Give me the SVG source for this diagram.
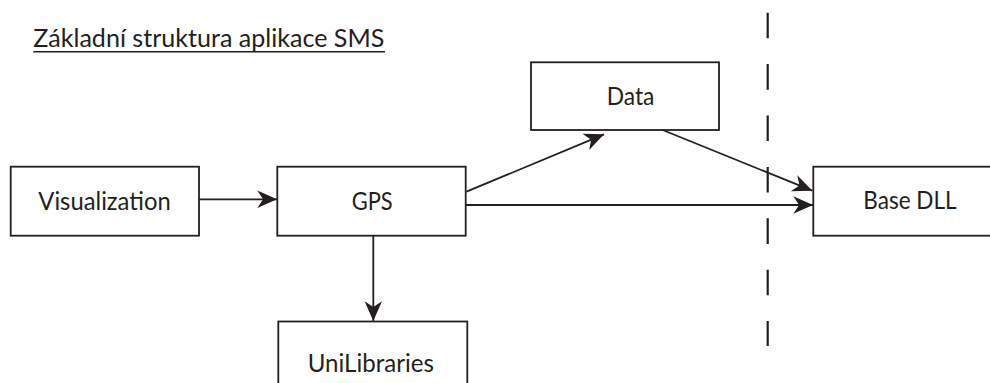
<svg xmlns="http://www.w3.org/2000/svg" width="990" height="383" viewBox="0 0 990 383">
  <style>
    .box { fill: #ffffff; stroke: #231f20; stroke-width: 1.8; }
    .lbl { font-family: Lato, "Open Sans", "Liberation Sans", sans-serif; font-size: 25.5px; fill: #231f20; }
    .edge { fill: none; stroke: #231f20; stroke-width: 1.8; marker-end: url(#head); }
  </style>
  <defs>
    <marker id="head" markerUnits="userSpaceOnUse" markerWidth="22" markerHeight="22" viewBox="-18 -9 19 18" refX="0" refY="0" orient="auto">
      <path d="M0,0 L-17,-7.5 L-12,0 L-17,7.5 Z" fill="#231f20"/>
    </marker>
  </defs>
  <rect width="990" height="383" fill="#ffffff"/>

  <!-- title -->
  <g id="title">
    <text class="lbl" x="33.3" y="46.7" font-size="27" textLength="351" lengthAdjust="spacingAndGlyphs">Základní struktura aplikace SMS</text>
    <line x1="33.3" y1="51.8" x2="385" y2="51.8" stroke="#231f20" stroke-width="1.4"/>
  </g>

  <!-- boundary -->
  <line id="boundary" x1="767.7" y1="12.7" x2="767.7" y2="346" stroke="#231f20" stroke-width="2.2" stroke-dasharray="25.6 25.8"/>

  <!-- connectors -->
  <g id="connectors">
    <line class="edge" x1="199" y1="199.3" x2="277" y2="199.3"/>
    <line class="edge" x1="466.5" y1="191.7" x2="604" y2="134.3"/>
    <line class="edge" x1="662.7" y1="130" x2="812.3" y2="190.7"/>
    <line class="edge" x1="466" y1="205" x2="813" y2="205"/>
    <line class="edge" x1="373.3" y1="236" x2="373.3" y2="321"/>
  </g>

  <g id="visualization">
    <rect class="box" x="10.7" y="166.7" width="188.3" height="69"/>
    <text class="lbl" x="38.3" y="210" textLength="132.4" lengthAdjust="spacingAndGlyphs">Visualization</text>
  </g>
  <g id="gps">
    <rect class="box" x="277.3" y="166.7" width="188.4" height="69"/>
    <text class="lbl" x="351.7" y="210" textLength="41" lengthAdjust="spacingAndGlyphs">GPS</text>
  </g>
  <g id="data">
    <rect class="box" x="531" y="62.3" width="188" height="67.7"/>
    <text class="lbl" x="606.7" y="105" textLength="47.7" lengthAdjust="spacingAndGlyphs">Data</text>
  </g>
  <g id="base-dll">
    <rect class="box" x="813.3" y="166.7" width="190" height="69"/>
    <text class="lbl" x="863.3" y="209.3" textLength="93.3" lengthAdjust="spacingAndGlyphs">Base DLL</text>
  </g>
  <g id="unilibraries">
    <rect class="box" x="278.3" y="321.5" width="189" height="80"/>
    <text class="lbl" x="307.7" y="371.7" textLength="126.3" lengthAdjust="spacingAndGlyphs">UniLibraries</text>
  </g>
</svg>
